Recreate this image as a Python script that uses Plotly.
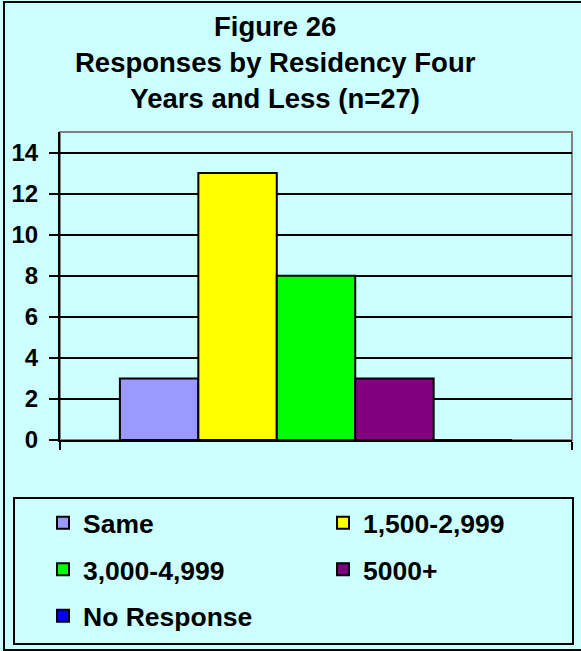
import plotly.graph_objects as go

# ---- data ----
categories = ["Residency Four Years and Less"]
series_names = ["Same", "1,500-2,999", "3,000-4,999", "5000+", "No Response"]
series_values = [3, 13, 8, 3, 0]
series_colors = ["#9999FF", "#FFFF00", "#00FF00", "#800080", "#0000FF"]
series_legend = ["legend", "legend2", "legend", "legend2", "legend"]
y_ticks = [0, 2, 4, 6, 8, 10, 12, 14]
title_text = "Figure 26<br>Responses by Residency Four<br>Years and Less (n=27)"

W, H = 581, 651
ML, MR, MT, MB = 60, 9, 132, 211
PW, PH = W - ML - MR, H - MT - MB

def px(x):
    return (x - ML) / PW

def py(y):
    return (H - MB - y) / PH

BG = "#CCFFFF"
FONT = "Liberation Sans, Arial, sans-serif"

fig = go.Figure()
for name, val, col, lg in zip(series_names, series_values, series_colors, series_legend):
    fig.add_trace(go.Bar(
        x=categories, y=[val], name=name,
        marker=dict(color=col, line=dict(color="black", width=2)),
        legend=lg, legendgroup=name,
    ))

fig.update_layout(
    width=W, height=H,
    margin=dict(l=ML, r=MR, t=MT, b=MB),
    paper_bgcolor=BG, plot_bgcolor=BG,
    barmode="group", bargap=0.234, bargroupgap=0,
    font=dict(family=FONT, color="black"),
    xaxis=dict(
        showticklabels=False, showgrid=False,
        showline=True, linecolor="black", linewidth=2,
        ticks="outside", tickson="boundaries", ticklen=8, tickwidth=2, tickcolor="black",
    ),
    yaxis=dict(
        range=[0, 15], tickvals=y_ticks,
        showgrid=True, gridcolor="black", gridwidth=2,
        zeroline=False,
        showline=True, linecolor="black", linewidth=2,
        ticks="outside", ticklen=9, tickwidth=2, tickcolor="black",
        ticklabelstandoff=6,
        tickfont=dict(family=FONT, size=24, weight="bold", color="black"),
    ),
    legend=dict(
        x=px(43), y=py(499), xanchor="left", yanchor="top",
        orientation="v", bgcolor="rgba(0,0,0,0)", borderwidth=0,
        font=dict(family=FONT, size=26.5, weight="bold", color="black"),
        tracegroupgap=9, traceorder="grouped",
    ),
    legend2=dict(
        x=px(323), y=py(499), xanchor="left", yanchor="top",
        orientation="v", bgcolor="rgba(0,0,0,0)", borderwidth=0,
        font=dict(family=FONT, size=26.5, weight="bold", color="black"),
        tracegroupgap=9, traceorder="grouped",
    ),
    annotations=[
        dict(text=title_text, xref="paper", yref="paper",
             x=px(275), y=py(9), xanchor="center", yanchor="top",
             showarrow=False, align="center",
             font=dict(family=FONT, size=27.5, weight="bold", color="black")),
    ],
    shapes=[
        # plot area frame (gray top/right)
        dict(type="rect", xref="paper", yref="paper", x0=0, x1=1, y0=0, y1=1,
             line=dict(color="#808080", width=2), layer="below"),
        # legend box
        dict(type="rect", xref="paper", yref="paper",
             x0=px(14), x1=px(573), y0=py(644), y1=py(498),
             line=dict(color="black", width=2)),
        # outer chart border
        dict(type="rect", xref="paper", yref="paper",
             x0=px(4), x1=px(590), y0=py(650), y1=py(2),
             line=dict(color="black", width=2)),
    ],
)

fig.write_html("out.html", config={"displayModeBar": False},
               post_script="document.body.style.margin='0';")
